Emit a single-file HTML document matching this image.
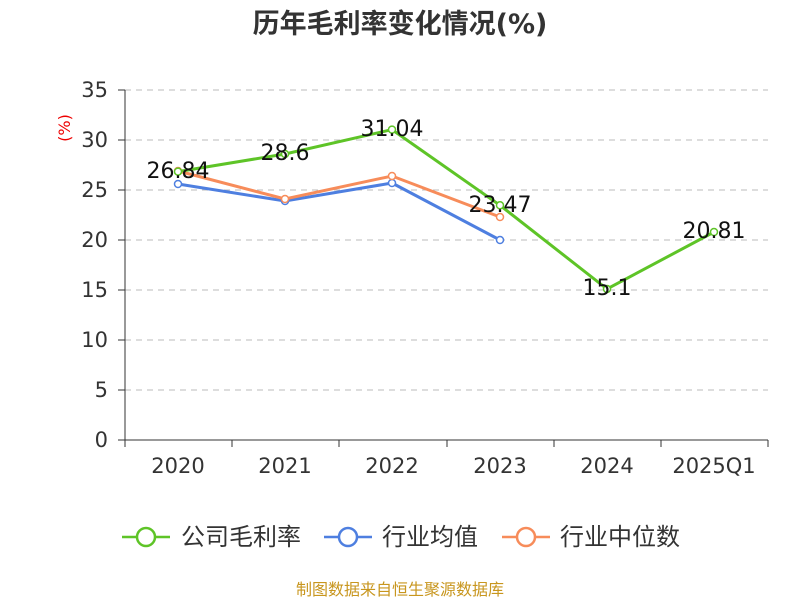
<!DOCTYPE html>
<html><head><meta charset="utf-8"><style>
body{margin:0;background:#fff;}
svg{display:block;font-family:"DejaVu Sans","Noto Sans CJK SC",sans-serif;}
</style></head><body>
<svg width="800" height="600" viewBox="0 0 800 600">
<text x="400" y="33" text-anchor="middle" font-size="27" font-weight="bold" fill="#333">历年毛利率变化情况(%)</text>
<text x="70" y="128" text-anchor="middle" font-size="16" fill="#e00" transform="rotate(-90 70 128)">(%)</text>
<g stroke="#bbb" stroke-dasharray="6,5" stroke-width="1">
<line x1="125" y1="90" x2="768" y2="90"/><line x1="125" y1="140" x2="768" y2="140"/>
<line x1="125" y1="190" x2="768" y2="190"/><line x1="125" y1="240" x2="768" y2="240"/>
<line x1="125" y1="290" x2="768" y2="290"/><line x1="125" y1="340" x2="768" y2="340"/>
<line x1="125" y1="390" x2="768" y2="390"/>
</g>
<g stroke="#333" stroke-width="1">
<line x1="125" y1="90" x2="125" y2="440"/>
<line x1="125" y1="440" x2="768" y2="440"/>
<line x1="118" y1="90" x2="125" y2="90"/><line x1="118" y1="140" x2="125" y2="140"/><line x1="118" y1="190" x2="125" y2="190"/><line x1="118" y1="240" x2="125" y2="240"/><line x1="118" y1="290" x2="125" y2="290"/><line x1="118" y1="340" x2="125" y2="340"/><line x1="118" y1="390" x2="125" y2="390"/><line x1="118" y1="440" x2="125" y2="440"/>
<line x1="125" y1="440" x2="125" y2="447"/><line x1="232" y1="440" x2="232" y2="447"/><line x1="339" y1="440" x2="339" y2="447"/><line x1="447" y1="440" x2="447" y2="447"/><line x1="554" y1="440" x2="554" y2="447"/><line x1="661" y1="440" x2="661" y2="447"/><line x1="768" y1="440" x2="768" y2="447"/>
</g>
<g font-size="21" fill="#333" text-anchor="end">
<text x="108" y="97">35</text><text x="108" y="147">30</text><text x="108" y="197">25</text><text x="108" y="247">20</text><text x="108" y="297">15</text><text x="108" y="347">10</text><text x="108" y="397">5</text><text x="108" y="447">0</text>
</g>
<g font-size="21" fill="#333" text-anchor="middle">
<text x="178" y="473">2020</text><text x="285" y="473">2021</text><text x="392" y="473">2022</text><text x="500" y="473">2023</text><text x="607" y="473">2024</text><text x="714" y="473">2025Q1</text>
</g>
<g fill="none" stroke-width="3">
<polyline stroke="#4e7fe0" points="178,184 285,201 392,183 500,240"/>
<polyline stroke="#f78c5a" points="178,171 285,199 392,176 500,217"/>
<polyline stroke="#5ec427" points="178,171.6 285,154 392,129.6 500,205.3 607,289 714,232"/>
</g>
<g fill="#fff" stroke-width="1.5">
<g stroke="#4e7fe0"><circle cx="178" cy="184" r="3.5"/><circle cx="285" cy="201" r="3.5"/><circle cx="392" cy="183" r="3.5"/><circle cx="500" cy="240" r="3.5"/></g>
<g stroke="#f78c5a"><circle cx="178" cy="171" r="3.5"/><circle cx="285" cy="199" r="3.5"/><circle cx="392" cy="176" r="3.5"/><circle cx="500" cy="217" r="3.5"/></g>
<g stroke="#5ec427"><circle cx="178" cy="171.6" r="3.5"/><circle cx="285" cy="154" r="3.5"/><circle cx="392" cy="129.6" r="3.5"/><circle cx="500" cy="205.3" r="3.5"/><circle cx="607" cy="289" r="3.5"/><circle cx="714" cy="232" r="3.5"/></g>
</g>
<g font-size="22" fill="#111" text-anchor="middle">
<text x="178" y="178">26.84</text><text x="285" y="160">28.6</text><text x="392" y="136">31.04</text><text x="500" y="212">23.47</text><text x="607" y="295">15.1</text><text x="714" y="238">20.81</text>
</g>
<g stroke-width="2.5" fill="#fff">
<line x1="122" y1="537" x2="170" y2="537" stroke="#5ec427"/><circle cx="146" cy="537" r="9" stroke="#5ec427"/>
<line x1="324" y1="537" x2="372" y2="537" stroke="#4e7fe0"/><circle cx="348" cy="537" r="9" stroke="#4e7fe0"/>
<line x1="502" y1="537" x2="550" y2="537" stroke="#f78c5a"/><circle cx="526" cy="537" r="9" stroke="#f78c5a"/>
</g>
<g font-size="24" fill="#333">
<text x="181" y="545">公司毛利率</text><text x="382" y="545">行业均值</text><text x="560" y="545">行业中位数</text>
</g>
<text x="400" y="595" text-anchor="middle" font-size="16" fill="#c8961e">制图数据来自恒生聚源数据库</text>
</svg>
</body></html>
